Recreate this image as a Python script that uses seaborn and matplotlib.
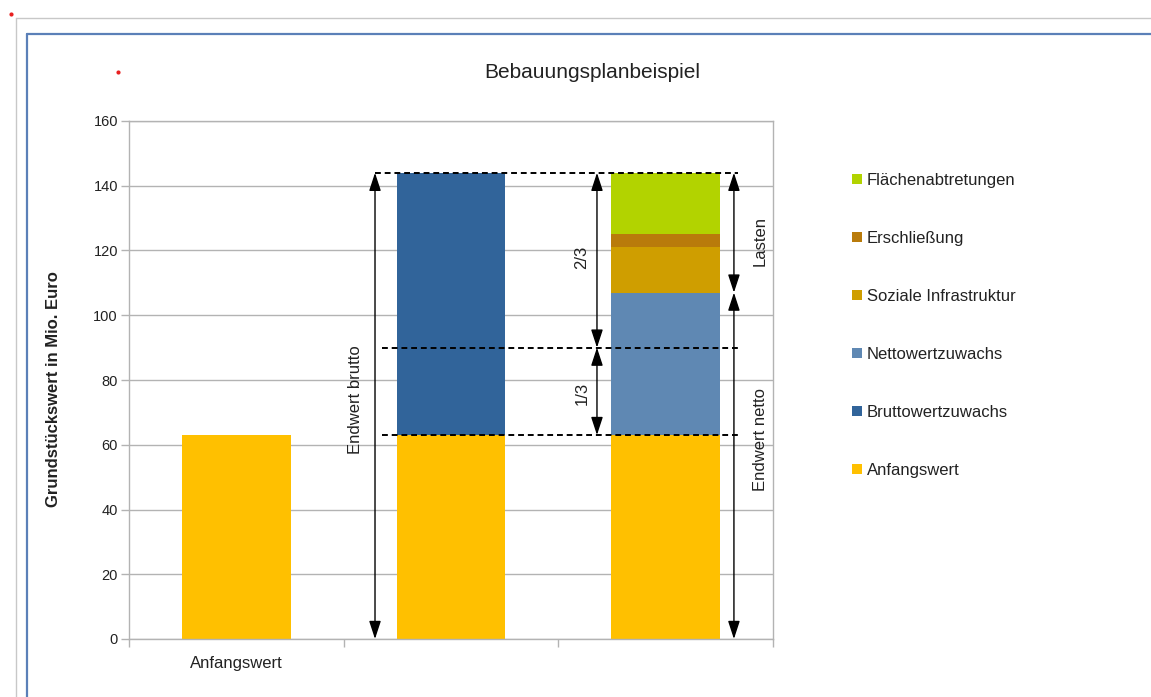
import pandas as pd
import matplotlib
matplotlib.use("Agg")
import matplotlib.pyplot as plt
from matplotlib.lines import Line2D
from matplotlib.patches import Patch
import seaborn as sns

## data (Mio. Euro)
categories = ["Anfangswert", "Bebauungsplan brutto", "Bebauungsplan netto"]
tick_labels = ["Anfangswert", "", ""]
components = ["Anfangswert", "Bruttowertzuwachs", "Nettowertzuwachs",
              "Soziale Infrastruktur", "Erschließung", "Flächenabtretungen"]
anfangswert = [63, 63, 63]
bruttowertzuwachs = [0, 81, 0]
nettowertzuwachs = [0, 0, 44]
soziale_infrastruktur = [0, 0, 14]
erschliessung = [0, 0, 4]
flaechenabtretungen = [0, 0, 19]
colors = ["#ffc000", "#31649a", "#5f88b3", "#cf9e00", "#b97b0b", "#b2d300"]

# cumulative tops for overlay-stacking
df = pd.DataFrame({"Kategorie": categories,
                   components[0]: anfangswert,
                   components[1]: bruttowertzuwachs,
                   components[2]: nettowertzuwachs,
                   components[3]: soziale_infrastruktur,
                   components[4]: erschliessung,
                   components[5]: flaechenabtretungen})
cum = df[components].cumsum(axis=1)
cum["Kategorie"] = categories

sns.set_theme(style="white")
plt.rcParams["font.family"] = ["Liberation Sans", "DejaVu Sans"]

W, H = 1151, 697
fig = plt.figure(figsize=(W / 100, H / 100), dpi=100)
ax = fig.add_axes([129 / W, 1 - 639 / H, 644 / W, 518 / H])

# draw top layer first, lower layers paint over
for comp, col in reversed(list(zip(components, colors))):
    sns.barplot(data=cum, x="Kategorie", y=comp, color=col, width=0.505,
                linewidth=0, saturation=1, ax=ax, zorder=2)

ax.set_ylim(0, 160)
ax.set_xlim(-0.5, 2.5)
ax.set_yticks(range(0, 161, 20))
ax.set_xticks(range(3))
ax.set_xticklabels(tick_labels)
ax.set_xticks([-0.5, 0.5, 1.5, 2.5], minor=True)
ax.tick_params(axis="x", which="major", length=0, pad=12, labelsize=12, labelcolor="#222222")
ax.tick_params(axis="x", which="minor", length=6, width=1, color="#b3b3b3", bottom=True)
ax.tick_params(axis="y", length=6, width=1, color="#b3b3b3", pad=2, labelsize=10.5,
               labelcolor="#222222", left=True)
ax.yaxis.grid(True, color="#b3b3b3", lw=1, zorder=0)
ax.set_axisbelow(True)
for s in ax.spines.values():
    s.set_color("#b3b3b3")
    s.set_linewidth(1)
ax.set_xlabel("")
ax.set_ylabel("Grundstückswert in Mio. Euro", fontsize=12, fontweight="bold", color="#222222")
ax.yaxis.set_label_coords(-0.106, 0.483)

# annotation levels from data
base = anfangswert[1]
brutto = cum.loc[1, components[-1]]
netto = cum.loc[2, components[2]]
drittel = base + (brutto - base) / 3

dash = dict(color="black", lw=1.4, ls=(0, (3, 2)), zorder=5, clip_on=False)
ax.plot([0.646, 2.336], [brutto, brutto], **dash)
ax.plot([0.68, 2.345], [drittel, drittel], **dash)
ax.plot([0.68, 2.336], [base, base], **dash)

arrow = dict(arrowstyle="<|-|>,head_length=0.55,head_width=0.18", color="black",
             lw=1, shrinkA=0, shrinkB=0, mutation_scale=20)

def dim(x, y0, y1):
    ax.annotate("", xy=(x, y1), xytext=(x, y0), arrowprops=arrow, zorder=6,
                annotation_clip=False)

dim(0.646, 0, brutto)
dim(1.68, drittel, brutto)
dim(1.68, base, drittel)
dim(2.318, netto, brutto)
dim(2.318, 0, netto)

tkw = dict(rotation=90, ha="center", va="center", fontsize=12, color="#222222")
ax.text(0.553, 73.8, "Endwert brutto", **tkw)
ax.text(1.61, 118, "2/3", **tkw)
ax.text(1.61, 76, "1/3", **tkw)
ax.text(2.44, 123, "Lasten", **tkw)
ax.text(2.44, 61.5, "Endwert netto", **tkw)

# legend, top entry first
handles = [Patch(facecolor=c, edgecolor="none", label=n)
           for n, c in reversed(list(zip(components, colors)))]
fig.legend(handles=handles, loc="upper left", bbox_to_anchor=(852 / W, 1 - 173 / H),
           frameon=False, fontsize=12, labelspacing=2.58, handlelength=0.6,
           handleheight=0.6, handletextpad=0.3, borderpad=0, borderaxespad=0,
           labelcolor="#222222")

fig.text(592 / W, 1 - 72 / H, "Bebauungsplanbeispiel", ha="center", va="center",
         fontsize=15, color="#222222")

# screenshot frame decorations
fig.add_artist(Line2D([16 / W, 1], [1 - 18 / H, 1 - 18 / H], color="#c8c8c8", lw=1))
fig.add_artist(Line2D([16 / W, 16 / W], [0, 1 - 18 / H], color="#c8c8c8", lw=1))
fig.add_artist(Line2D([27 / W, 1], [1 - 34 / H, 1 - 34 / H], color="#5b80b8", lw=1.6))
fig.add_artist(Line2D([27 / W, 27 / W], [0, 1 - 34 / H], color="#5b80b8", lw=1.6))
fig.add_artist(Line2D([11 / W], [1 - 14 / H], marker="o", ms=3, color="#e82020", mew=0))
fig.add_artist(Line2D([118 / W], [1 - 72 / H], marker="o", ms=3, color="#e82020", mew=0))

fig.savefig("out.png", dpi=100)
